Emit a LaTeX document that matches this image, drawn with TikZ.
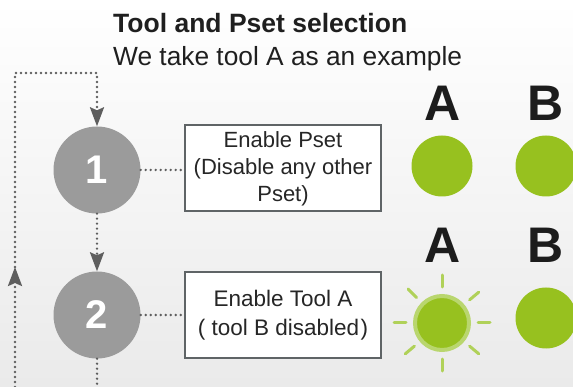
\documentclass[tikz,border=0pt]{standalone}
\usepackage{fontspec}
\setmainfont{Liberation Sans}
\usetikzlibrary{arrows.meta,calc}

\definecolor{stepgray}{HTML}{9B9B9B}
\definecolor{linegray}{HTML}{5E5E5E}
\definecolor{boxgray}{HTML}{5F6466}
\definecolor{lampgreen}{HTML}{97C11F}
\definecolor{lampglow}{HTML}{B9D66E}
\definecolor{raygreen}{HTML}{B0D159}
\definecolor{letterblack}{HTML}{1C1C1C}
\definecolor{bgbottom}{HTML}{EAEAEA}

\tikzset{
  stepnum/.style={circle, fill=stepgray, minimum size=87pt, inner sep=0pt,
    text=white, font=\fontsize{40}{40}\selectfont\bfseries},
  infobox/.style={draw=boxgray, line width=2pt, fill=white, minimum width=196pt,
    minimum height=86pt, align=center, text=black!85},
  dots/.style={draw=linegray, line width=2.6pt, line cap=round, dash pattern=on 0pt off 5pt},
  dotarrow/.style={dots, -{Stealth[length=19pt,width=14pt,inset=3pt,fill=linegray]}},
  lamp/.style={circle, fill=lampgreen, minimum size=61pt, inner sep=0pt},
  litlamp/.style={circle, fill=lampgreen, draw=lampglow, line width=4pt,
    minimum size=54pt, inner sep=0pt},
  letter/.style={text=letterblack, font=\fontsize{50}{50}\selectfont\bfseries},
  ray/.style={draw=raygreen, line width=3pt, line cap=round}
}

\begin{document}
\begin{tikzpicture}[x=1pt, y=-1pt]
  %%%%% FRAME %%%%%
  \useasboundingbox (0,0) rectangle (573,387);
  \clip (0,0) rectangle (573,387);
  \shade[top color=white, middle color=white!60!bgbottom, bottom color=bgbottom]
    (0,0) rectangle (573,387);

  %%%%% HEADING %%%%%
  \node[anchor=base west, inner sep=0pt, text=black!88,
    font=\fontsize{26.5}{26.5}\selectfont\bfseries] (title) at (113,33)
    {Tool and Pset selection};
  \node[anchor=base west, inner sep=0pt, text=black!88,
    font=\fontsize{26.3}{26.3}\selectfont] (subtitle) at (113,66)
    {We take tool A as an example};

  %%%%% STEPS %%%%%
  \node[stepnum] (c1) at (97,170) {1};
  \node[stepnum] (c2) at (97,315) {2};

  \node[infobox, font=\fontsize{22}{27}\selectfont] (box1) at (283,168.5)
    {Enable Pset\\(Disable any other\\Pset)};
  \node[infobox, font=\fontsize{22.5}{29}\selectfont] (box2) at (283,315)
    {Enable Tool A\\( tool B disabled\kern1.5pt)};

  %%%%% LETTERS AND LAMPS %%%%%
  \node[letter] (la1) at (443,103) {A};
  \node[letter] (lb1) at (546,103) {B};
  \node[letter] (la2) at (443,245) {A};
  \node[letter] (lb2) at (546,245) {B};

  \node[lamp] (pa1) at (442,166) {};
  \node[lamp] (pb1) at (546,166) {};
  \node[litlamp] (pa2) at (442,323) {};
  \node[lamp] (pb2) at (546,318) {};

  \foreach \a in {0,40,90,135,180,220,270,320}
    \draw[ray] ($(pa2)+(\a:36pt)$) -- ($(pa2)+(\a:48pt)$);

  %%%%% CONNECTORS %%%%%
  \coordinate (loopbot) at (15,387);
  \coordinate (looptip) at (15,267);
  \coordinate (looptop) at (15,73);
  \coordinate (loopturn) at (97,73);
  \coordinate (stepout) at (97,387);

  \draw[dotarrow] (loopbot) -- (looptip);
  \draw[dotarrow] (looptip) -- (looptop) -- (loopturn) -- (c1.north);
  \draw[dotarrow] (c1) -- (c2);
  \draw[dots] (c2) -- (stepout);

  \draw[dots] (c1.east) -- (c1.east -| box1.west);
  \draw[dots] (c2.east) -- (c2.east -| box2.west);
\end{tikzpicture}
\end{document}
